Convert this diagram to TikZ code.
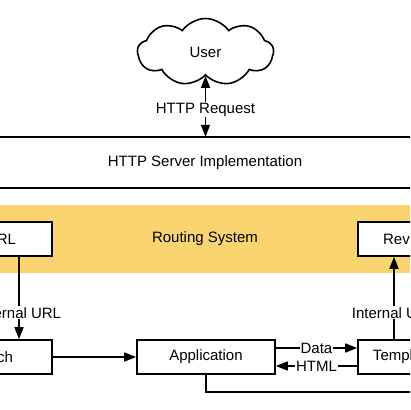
\documentclass[tikz,border=0pt]{standalone}
\usepackage{fontspec}
\setmainfont{Liberation Sans}
\usetikzlibrary{shapes.symbols,arrows.meta}
\definecolor{routeyellow}{RGB}{250,212,110}
\tikzset{%
  box/.style     = {shape=rectangle, draw, fill=white, line width=1.6pt,%
                    minimum height=34pt, inner sep=2pt},%
  band/.style    = {shape=rectangle, minimum width=450pt, inner sep=0pt},%
  conn/.style    = {line width=1.5pt, -{Triangle[length=12pt,width=9pt]}},%
  lbl/.style     = {fill=white, inner sep=1pt}%
}

\begin{document}
\begin{tikzpicture}[x=1pt,y=1pt,
	every node/.style = {font=\fontsize{15}{18}\selectfont}]
		\useasboundingbox (0,0) rectangle (410,410);
		\clip (0,0) rectangle (410,410);
		\node [band, fill=routeyellow, minimum height=68pt] (routing) at (205,171) {Routing System};
		\node [band, minimum height=51pt] (server) at (205,247.5) {HTTP Server Implementation};
		\draw [line width=1.6pt] (server.north west) -- (server.north east)
			(server.south west) -- (server.south east);
		\node [cloud, draw, line width=1.6pt, cloud puffs=9, cloud puff arc=110,
			aspect=2, minimum width=136pt, minimum height=67pt, inner sep=0pt] (user) at (205.5,358) {User};
		\node [box, minimum width=91pt] (url) at (6.5,171) {RL};
		\node [box, minimum width=94pt] (dispatch) at (5,53) {ch};
		\node [box, minimum width=138pt] (app) at (206,53) {Application};
		\node [box, minimum width=70pt] (templ) at (393,53) {Templ};
		\node [box, minimum width=77pt] (rev) at (396.5,171) {Rev};
		\coordinate (exit) at (430,18);
		\draw [conn, {Triangle[length=12pt,width=9pt]}-{Triangle[length=12pt,width=9pt]}]
			(user.south) -- (user.south |- server.north) node [lbl, pos=0.55] {HTTP Request};
		\draw [conn] ([xshift=12.5pt]url.south) -- ([xshift=14pt]dispatch.north)
			node [lbl, pos=0.68] {Internal URL};
		\draw [conn] (dispatch) -- (app);
		\draw [conn] ([yshift=9pt]app.east) -- ([yshift=9pt]templ.west)
			node [lbl, midway] {Data};
		\draw [conn] ([yshift=-9pt]templ.west) -- ([yshift=-9pt]app.east)
			node [lbl, midway] {HTML};
		\draw [conn] ([xshift=1pt]templ.north) -- ([xshift=1pt]templ.north |- rev.south)
			node [lbl, pos=0.32] {Internal URL};
		\draw [line width=1.6pt] (app.south) |- (exit);
	\end{tikzpicture}
\end{document}
